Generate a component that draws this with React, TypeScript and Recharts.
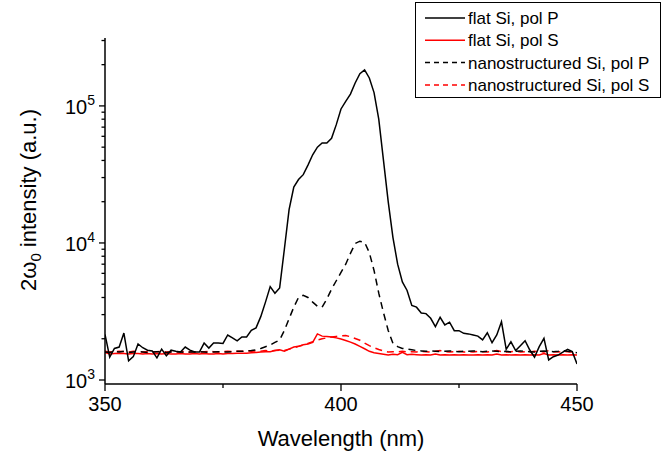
import React from 'react';
import { LineChart, Line, XAxis, YAxis } from 'recharts';

const wavelength = Array.from({ length: 101 }, (_, i) => 350 + i);

const flatP = [
  2150, 1470, 1700, 1740, 2200, 1380, 1480, 1830, 1720, 1650,
  1630, 1450, 1680, 1500, 1650, 1620, 1600, 1740, 1650, 1600,
  1600, 1860, 1710, 1860, 1860, 1850, 2130, 2030, 1930, 2060,
  2060, 2300, 2400, 2900, 3700, 4800, 4300, 4700, 9000, 17500,
  25600, 29000, 31500, 37000, 44000, 50000, 53600, 53600, 58000, 73000,
  95000, 108000, 122000, 147000, 172000, 183000, 160000, 125000, 80000, 40000,
  20000, 11000, 7000, 5200, 4500, 3500, 3400, 3080, 3050, 2820,
  2450, 2870, 2520, 2640, 2290, 2290, 2190, 2170, 2130, 2090,
  1960, 2210, 1870, 2130, 2660, 1675, 1900, 1640, 1780, 1935,
  1655, 1465, 1750, 2015, 1400, 1480, 1520, 1600, 1675, 1610,
  1310,
];

const flatS = [
  1590, 1550, 1560, 1570, 1560, 1550, 1560, 1560, 1550, 1560,
  1550, 1560, 1550, 1560, 1550, 1550, 1560, 1550, 1550, 1560,
  1550, 1560, 1550, 1550, 1560, 1550, 1560, 1560, 1570, 1570,
  1570, 1580, 1590, 1600, 1610, 1610, 1640, 1660, 1620, 1680,
  1740, 1760, 1810, 1830, 1880, 2170, 2090, 2080, 2060, 2030,
  1990, 1940, 1890, 1830, 1760, 1690, 1620, 1580, 1560, 1540,
  1520, 1540, 1530, 1590, 1530, 1540, 1530, 1520, 1530, 1520,
  1550, 1520, 1530, 1520, 1530, 1520, 1530, 1520, 1520, 1530,
  1520, 1530, 1520, 1550, 1520, 1530, 1520, 1530, 1520, 1530,
  1520, 1530, 1520, 1560, 1520, 1530, 1520, 1530, 1520, 1530,
  1520,
];

const nanoP = [
  1600, 1590, 1610, 1600, 1620, 1590, 1600, 1610, 1600, 1590,
  1600, 1610, 1600, 1590, 1600, 1610, 1600, 1590, 1600, 1600,
  1610, 1600, 1590, 1600, 1610, 1600, 1600, 1610, 1620, 1620,
  1630, 1640, 1660, 1700, 1750, 1800, 1880, 1960, 2300, 2800,
  3400, 4000, 4150, 4000, 3700, 3450, 3400, 3900, 4600, 5300,
  6100, 7000, 8400, 9900, 10300, 10100, 8500, 6300, 4300, 3100,
  2300, 1850, 1750, 1700, 1680, 1660, 1640, 1630, 1620, 1630,
  1620, 1610, 1620, 1630, 1620, 1610, 1620, 1620, 1630, 1620,
  1610, 1620, 1630, 1620, 1610, 1620, 1600, 1620, 1630, 1620,
  1610, 1600, 1620, 1630, 1620, 1610, 1620, 1640, 1620, 1600,
  1580,
];

const nanoS = [
  1620, 1600, 1610, 1620, 1610, 1600, 1620, 1610, 1600, 1610,
  1600, 1610, 1620, 1600, 1610, 1600, 1610, 1620, 1600, 1610,
  1600, 1610, 1620, 1610, 1600, 1610, 1620, 1610, 1620, 1620,
  1630, 1620, 1630, 1620, 1640, 1630, 1640, 1650, 1640, 1680,
  1720, 1760, 1800, 1850, 1900, 1960, 2000, 2030, 2060, 2080,
  2100, 2110, 2070, 2010, 1950, 1860, 1780, 1720, 1670, 1630,
  1600, 1610, 1600, 1620, 1600, 1610, 1600, 1620, 1610, 1600,
  1620, 1640, 1610, 1600, 1610, 1620, 1600, 1610, 1600, 1620,
  1610, 1600, 1620, 1640, 1610, 1600, 1610, 1620, 1600, 1610,
  1600, 1620, 1610, 1600, 1640, 1610, 1600, 1620, 1610, 1600,
  1590,
];

const xTicks = [350, 375, 400, 425, 450];
const xLabelTicks = [350, 400, 450];
const yTicks = [
  1000, 2000, 3000, 4000, 5000, 6000, 7000, 8000, 9000,
  10000, 20000, 30000, 40000, 50000, 60000, 70000, 80000, 90000,
  100000, 200000, 300000,
];
const yDomain = [935, 313000];

const seriesNames = [
  'flat Si, pol P',
  'flat Si, pol S',
  'nanostructured Si, pol P',
  'nanostructured Si, pol S',
];

const data = wavelength.map((w, i) => ({
  w,
  flatP: flatP[i],
  flatS: flatS[i],
  nanoP: nanoP[i],
  nanoS: nanoS[i],
}));

const FONT = '"Liberation Sans", Arial, sans-serif';
const X_TICK_SIZE = 7;
const X_TICK_MARGIN = 6;
const Y_TICK_SIZE = 6;
const Y_TICK_MARGIN = 3;

const XTick = (props: any) => {
  const { x, y, payload } = props;
  const v = payload.value;
  const axisY = y - X_TICK_SIZE - X_TICK_MARGIN;
  const major = xLabelTicks.includes(v);
  const len = major ? 7 : 4;
  return (
    <g>
      <line x1={x} x2={x} y1={axisY} y2={axisY + len} stroke="#000" strokeWidth={1.3} />
      {major && (
        <text x={x} y={y} dy="0.71em" textAnchor="middle" fontSize={20} fontFamily={FONT} fill="#000">
          {v}
        </text>
      )}
    </g>
  );
};

const YTick = (props: any) => {
  const { x, y, payload } = props;
  const v = payload.value;
  const exp = Math.log10(v);
  const major = Math.abs(exp - Math.round(exp)) < 1e-9;
  const axisX = x + Y_TICK_SIZE + Y_TICK_MARGIN;
  const len = major ? 6 : 3.5;
  return (
    <g>
      <line x1={axisX - len} x2={axisX} y1={y} y2={y} stroke="#000" strokeWidth={1.3} />
      {major && (
        <text x={x - 1} y={y + 8} textAnchor="end" fontSize={20} fontFamily={FONT} fill="#000">
          <tspan>10</tspan>
          <tspan dy={-9} fontSize={14}>{Math.round(exp)}</tspan>
        </text>
      )}
    </g>
  );
};

const YTitle = () => (
  <text
    x={36}
    y={200}
    transform="rotate(-90, 36, 200)"
    textAnchor="middle"
    fontSize={22}
    fontFamily={FONT}
    fill="#000"
  >
    <tspan>2ω</tspan>
    <tspan dy={5} fontSize={15}>0</tspan>
    <tspan dy={-5}> intensity (a.u.)</tspan>
  </text>
);

const XTitle = () => (
  <text x={341} y={446} textAnchor="middle" fontSize={22} fontFamily={FONT} fill="#000">
    Wavelength (nm)
  </text>
);

const legendStyles = [
  { stroke: '#000', dash: undefined },
  { stroke: '#ff0000', dash: undefined },
  { stroke: '#000', dash: '5 4' },
  { stroke: '#ff0000', dash: '5 4' },
];

const LegendBox = () => (
  <svg
    width={246}
    height={96}
    style={{ position: 'absolute', left: 415, top: 2 }}
  >
    <rect x={0.5} y={0.5} width={245} height={95} fill="#fff" stroke="#000" strokeWidth={1} />
    {seriesNames.map((name, i) => {
      const cy = 16 + i * 22.3;
      const st = legendStyles[i];
      return (
        <g key={name}>
          <line x1={10} x2={50} y1={cy} y2={cy} stroke={st.stroke} strokeWidth={1.5} strokeDasharray={st.dash} />
          <text x={53} y={cy + 6} fontSize={17} fontFamily={FONT} fill="#000">
            {name}
          </text>
        </g>
      );
    })}
  </svg>
);

export default function App() {
  return (
    <div style={{ position: 'absolute', left: 0, top: 0, width: 665, height: 456, background: '#fff' }}>
      <LineChart
        width={665}
        height={456}
        data={data}
        margin={{ top: 38, right: 88, bottom: 0, left: 0 }}
      >
        <XAxis
          dataKey="w"
          type="number"
          domain={[350, 450]}
          ticks={xTicks}
          interval={0}
          height={72}
          tickSize={X_TICK_SIZE}
          tickMargin={X_TICK_MARGIN}
          tickLine={false}
          tick={<XTick />}
          axisLine={{ stroke: '#000', strokeWidth: 1.5 }}
          allowDataOverflow
          label={<XTitle />}
        />
        <YAxis
          type="number"
          scale="log"
          domain={yDomain}
          ticks={yTicks}
          interval={0}
          width={105}
          tickSize={Y_TICK_SIZE}
          tickMargin={Y_TICK_MARGIN}
          tickLine={false}
          tick={<YTick />}
          axisLine={{ stroke: '#000', strokeWidth: 1.5 }}
          allowDataOverflow
          label={<YTitle />}
        />
        <Line dataKey="nanoS" stroke="#ff0000" strokeWidth={1.5} strokeDasharray="7 5" dot={false} isAnimationActive={false} />
        <Line dataKey="flatS" stroke="#ff0000" strokeWidth={1.5} dot={false} isAnimationActive={false} />
        <Line dataKey="nanoP" stroke="#000" strokeWidth={1.5} strokeDasharray="7 5" dot={false} isAnimationActive={false} />
        <Line dataKey="flatP" stroke="#000" strokeWidth={1.5} dot={false} isAnimationActive={false} />
      </LineChart>
      <LegendBox />
    </div>
  );
}
